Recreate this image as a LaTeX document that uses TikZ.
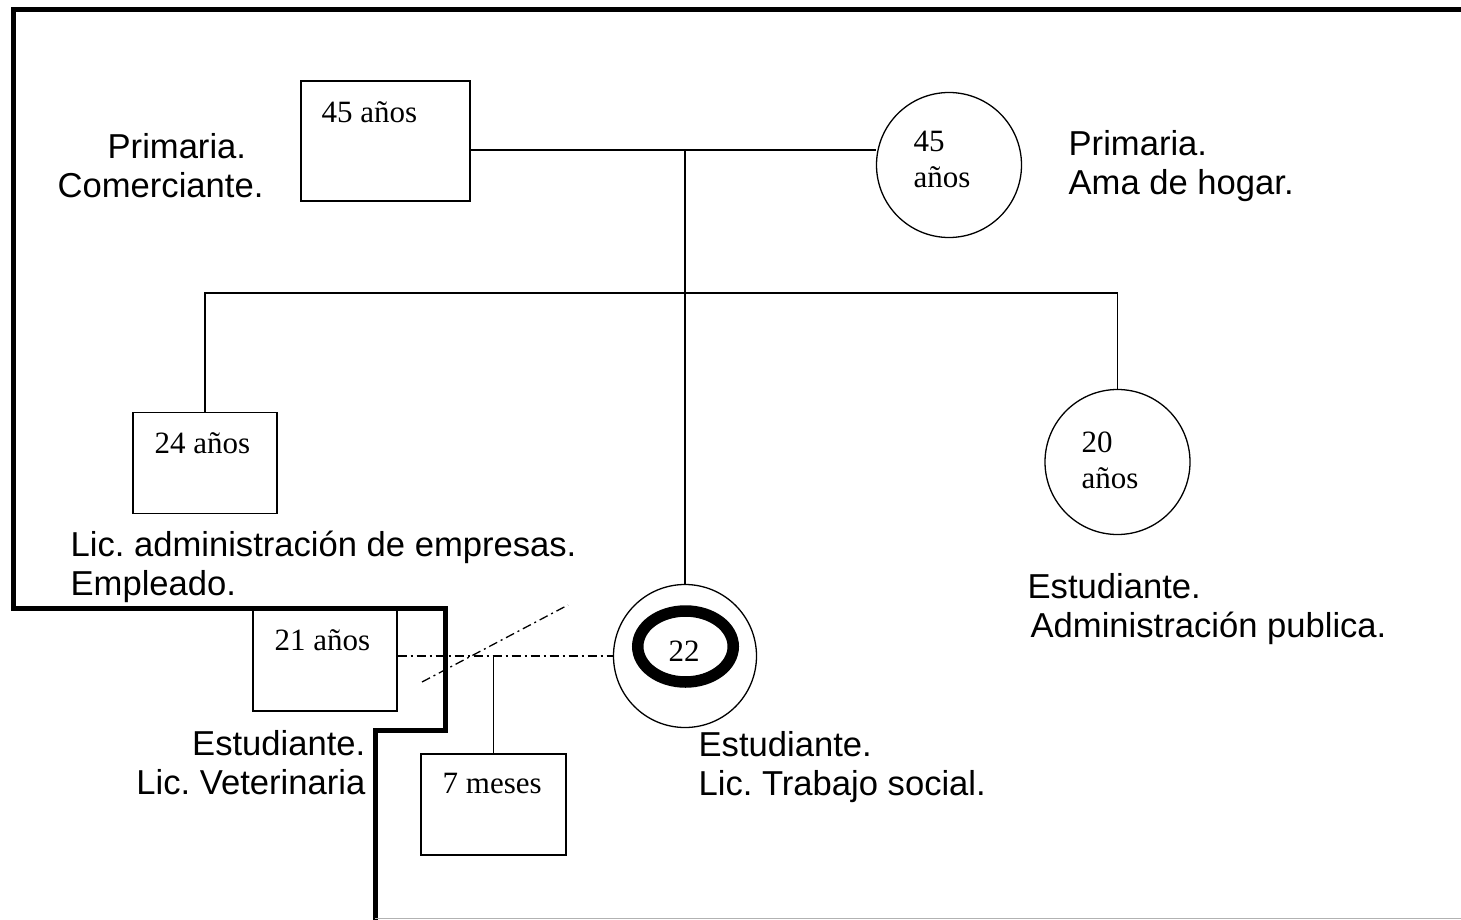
\documentclass[tikz,border=0pt]{standalone}
\usepackage{fontspec}
\setmainfont{Liberation Serif}
\newfontfamily\arialfont{Liberation Sans}
\usetikzlibrary{shapes.geometric}
\frenchspacing

\begin{document}
\begin{tikzpicture}[x=1pt,y=-1pt,line width=1.3pt,
  male/.style={rectangle,draw,minimum width=144pt,minimum height=101pt,inner sep=0pt},
  female/.style={circle,draw,minimum size=145pt,inner sep=0pt},
  age/.style={font=\fontsize{31}{36}\selectfont,inner sep=0pt,anchor=base west,align=left},
  info/.style={font=\arialfont\fontsize{34.6}{39}\selectfont,inner sep=0pt,anchor=base west,align=left},
  rel/.style={dash pattern=on 9pt off 4pt on 2pt off 4pt},
  frame/.style={line width=5pt}]

  \useasboundingbox (0,0) rectangle (1461,920);

  % frame round the household
  \draw[frame] (1466,10) -- (13,10) -- (13,608) -- (445,608) -- (445,730) -- (375,730) -- (375,925);
  \draw[gray!60,line width=1.5pt] (375,918.5) -- (1466,918.5);

  % parents
  \node[male,minimum width=169pt,minimum height=120pt] (father) at (385.5,141) { };
  \node[female] (mother) at (949,165) { };
  \node[age] (fatherage) at (321,123) {45 años};
  \node[age] (motherage) at (913,188) {45\\años};
  \node[info] (fatherinfo) at (57,197) {\hspace*{50pt}Primaria.\\Comerciante.};
  \node[info] (motherinfo) at (1068,195) {Primaria.\\Ama de hogar.};

  % children
  \node[male] (bro) at (205,463) { };
  \node[female] (sis) at (1117.5,462) { };
  \node[male,minimum height=103pt] (bro2) at (325,659.5) { };
  \node[female,minimum size=143pt] (child) at (685,656) { };
  \node[draw,ellipse,line width=11.5pt,minimum width=95.5pt,minimum height=71pt,inner sep=0pt] (ring) at (685.5,646.5) { };
  \node[male,minimum width=145pt] (baby) at (493.5,804.5) { };

  \node[age] (broage) at (154,453) {24 años};
  \node[age] (sisage) at (1081,488) {20\\años};
  \node[age] (bro2age) at (274,650) {21 años};
  \node[age,anchor=base] (childage) at (684,661) {22};
  \node[age] (babyage) at (442,793) {7 meses};

  \node[info] (broinfo) at (70,595) {Lic. administración de empresas.\\Empleado.};
  \node[info] (sisinfo) at (1027,637) {Estudiante.\\\hspace*{3pt}Administración publica.};
  \node[info,anchor=base east,align=right] (bro2info) at (366,794) {Estudiante.\\Lic. Veterinaria};
  \node[info] (childinfo) at (698,795) {Estudiante.\\Lic. Trabajo social.};

  % lines
  \coordinate (wed) at (685,150);
  \coordinate (sib) at (685,293);
  \draw (father.east |- wed) -- (mother.west |- wed);
  \draw (wed) -- (child.north);
  \draw (bro.north) |- (sib) -| (sis.north);

  \coordinate (cpl) at (baby.north |- child.west);
  \draw[rel] (bro2.east |- child.west) -- (child.west);
  \draw (cpl) -- (baby.north);
  \coordinate (sepA) at (422,682);
  \coordinate (sepB) at (568,605);
  \draw[rel] (sepA) -- (sepB);

\end{tikzpicture}
\end{document}
